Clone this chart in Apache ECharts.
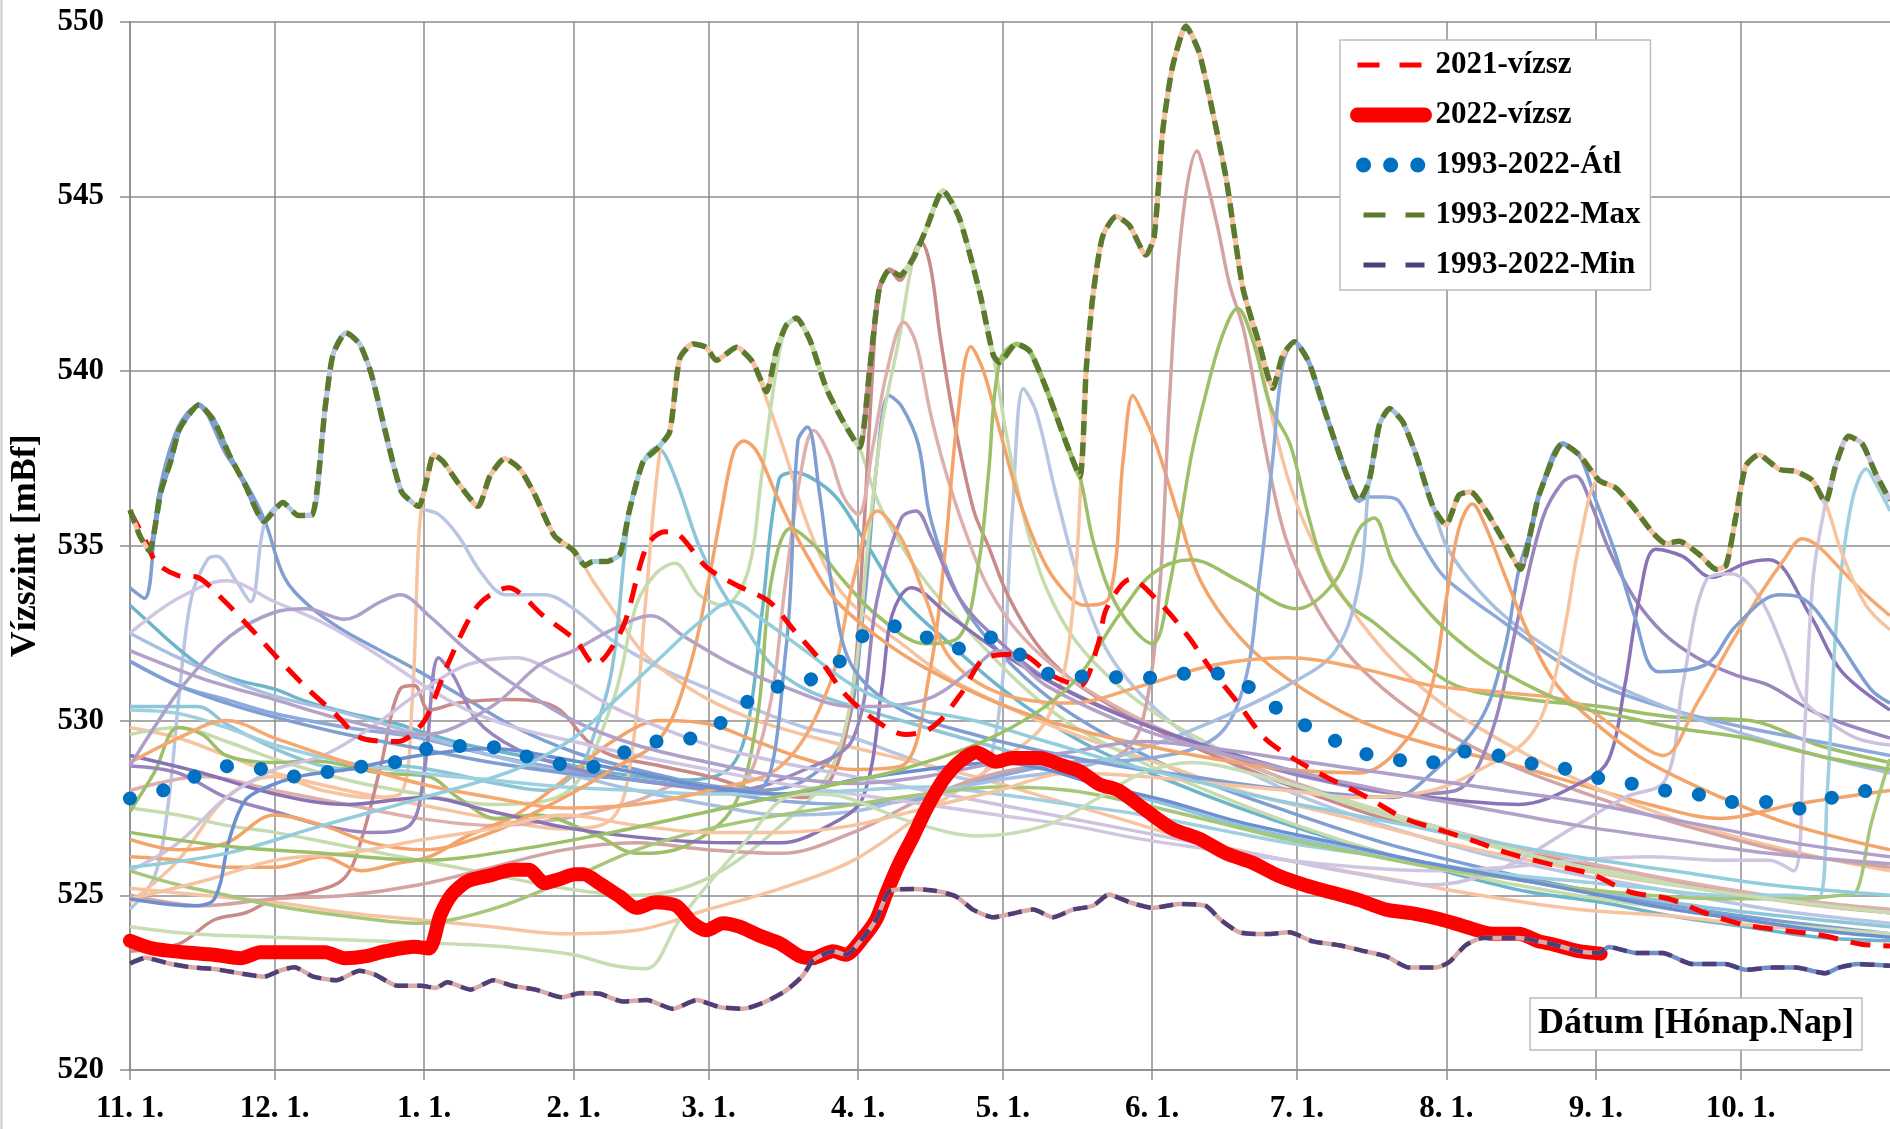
<!DOCTYPE html>
<html lang="hu">
<head>
  <meta charset="UTF-8">
  <title>Vízszint 1993-2022</title>
  <script src="https://cdn.jsdelivr.net/npm/echarts@6/dist/echarts.min.js"></script>
  <style>
    html, body { margin: 0; padding: 0; background: #fff; }
    #chart { width: 1890px; height: 1129px; }
  </style>
</head>
<body>
  <div id="chart"></div>
  <script>
    // x = day of the hydrological year (0 = Nov 1), y = water level [mBf]
    const monthStarts = [0, 30, 61, 92, 120, 151, 181, 212, 242, 273, 304, 334];
    const monthLabels = ['11. 1.', '12. 1.', '1. 1.', '2. 1.', '3. 1.', '4. 1.', '5. 1.', '6. 1.', '7. 1.', '8. 1.', '9. 1.', '10. 1.'];

    const lvl2021 = [[0,536.0],[3,535.2],[5.6,534.5],[10,534.15],[14,534.1],[19,533.5],[24.6,532.7],[30.2,531.85],[36.9,530.9],[42.5,530.2],[48,529.5],[55.5,529.4],[58.5,529.6],[61.5,530.1],[66.2,531.7],[72.2,533.3],[78.5,533.8],[85.7,533.0],[92.4,532.3],[96.5,531.6],[99,531.9],[102.6,532.8],[107.2,535.0],[111,535.4],[114,535.3],[119.5,534.4],[125.4,533.9],[132.6,533.4],[137.6,532.6],[143.3,531.7],[148,530.8],[153.6,530.1],[160.8,529.6],[165,529.7],[168,530.0],[172.5,530.8],[177.5,531.8],[184.7,531.9],[191,531.3],[197,531.0],[200.8,532.2],[202.5,533.2],[207.5,534.05],[214,533.3],[219.5,532.4],[224,531.5],[229.5,530.55],[235.3,529.5],[241.4,528.9],[248.6,528.35],[256.6,527.8],[264.3,527.2],[271,526.9],[278.8,526.55],[286,526.2],[295.3,525.86],[303.2,525.6],[311,525.1],[319.1,524.9],[327.3,524.46],[335,524.15],[342.6,524.0],[351,523.85],[359,523.6],[365,523.55]];

    const lvl2022 = [[0,523.7],[4.6,523.48],[11,523.37],[17.4,523.3],[23,523.2],[27,523.37],[33,523.37],[40.5,523.37],[44.5,523.2],[49,523.26],[53,523.4],[59,523.53],[62,523.48],[64.4,524.44],[66.8,525.03],[70,525.4],[74.7,525.57],[79.5,525.73],[82.7,525.73],[86,525.35],[89,525.46],[92.3,525.6],[94,525.6],[97.4,525.34],[101.6,524.96],[105,524.64],[109,524.8],[113.3,524.7],[116.7,524.2],[119.5,524.0],[123,524.2],[126.4,524.1],[130.6,523.84],[134.8,523.62],[139,523.25],[141.6,523.2],[145.8,523.4],[148.5,523.3],[152,523.78],[154.8,524.32],[156.9,525.07],[159.6,525.93],[162.4,526.68],[165,527.43],[168.6,528.29],[172,528.82],[175.5,529.09],[179.6,528.82],[183,528.93],[188.7,528.93],[193.5,528.71],[197,528.55],[201,528.18],[205,528.0],[210.7,527.43],[216.2,526.9],[221.7,526.62],[227.3,526.2],[232.8,525.93],[238.3,525.55],[243.9,525.28],[249.4,525.07],[254.9,524.86],[260.5,524.59],[266,524.48],[271.5,524.32],[277,524.1],[282.6,523.9],[288,523.9],[292.2,523.68],[295,523.6],[300.5,523.4],[305,523.33]];

    const lvlAvg = [[0,527.77],[7.5,528.03],[14.2,528.44],[21,528.7],[28.3,528.59],[35.5,528.38],[42.4,528.57],[49.4,528.71],[56.6,528.86],[63.3,529.26],[70.4,529.27],[77.7,529.19],[84.5,528.87],[91.5,528.71],[95.2,528.66],[101.6,529.04],[108.1,529.38],[115.3,529.45],[121.7,529.86],[127.3,530.47],[133.6,530.94],[140.7,531.15],[146.7,531.63],[151.6,532.39],[158.3,532.7],[165,532.39],[171.7,532.06],[178.4,532.38],[184.4,531.9],[190.4,531.34],[196.6,531.26],[201.7,531.26],[208.6,531.2],[215.6,531.29],[222.6,531.39],[229.6,531.18],[235.6,530.56],[241.6,530.02],[248,529.57],[254.4,529.11],[261.3,528.93],[268.6,528.74],[275.1,529.12],[282.3,529.04],[289.3,528.8],[296.4,528.66],[303.4,528.39],[310.2,528.23],[317,528.02],[324.5,527.91],[331.3,527.67],[338.9,527.67],[345.8,527.48],[352.3,527.77],[359.6,527.98],[365,528.0]];

    const lvlMax = [[0,536.03],[2,535.3],[4,534.86],[6.4,536.55],[8.4,537.4],[10.3,538.35],[14.3,539.04],[17.5,538.56],[20.6,537.6],[23.8,536.77],[27.8,535.7],[31.7,536.24],[34.9,535.87],[37.7,535.87],[40.5,538.99],[42.1,540.47],[44.8,541.1],[47.6,540.78],[50,539.94],[53.2,538.14],[56.3,536.55],[59.9,536.13],[61.5,536.87],[63,537.61],[65,537.4],[68.2,536.77],[72.2,536.13],[74.6,536.98],[77.7,537.5],[80.9,537.19],[84,536.45],[88,535.29],[92,534.86],[94.4,534.44],[96,534.55],[98.8,534.55],[101.6,534.76],[103.6,536.03],[106.4,537.4],[109.2,537.77],[111.9,538.25],[114,540.36],[116.8,540.78],[119.5,540.68],[121.6,540.31],[125.8,540.68],[129.2,540.25],[132,539.41],[134,540.57],[136.1,541.31],[138.2,541.52],[141,540.89],[144.4,539.51],[147.9,538.56],[151.3,537.82],[153.4,540.05],[155.4,542.37],[157.5,542.9],[159.6,542.74],[162.4,543.21],[165.1,544.06],[168.6,545.17],[172,544.38],[176.2,542.26],[179,540.47],[180.3,540.25],[183.8,540.78],[186.6,540.57],[190,539.51],[194.2,537.93],[197,536.98],[198.3,540.04],[199.7,542.16],[201.7,543.85],[204.5,544.43],[207.3,544.16],[210.7,543.32],[212.4,543.85],[214.2,546.91],[216.2,548.71],[219,549.87],[221.7,549.13],[224.5,547.44],[227.3,545.54],[230.8,542.37],[234.2,540.78],[237,539.51],[239.1,540.47],[241.5,540.84],[244.5,540.25],[248,538.77],[252.2,537.08],[254.9,536.29],[257,536.87],[259.1,538.46],[261.2,538.93],[263.9,538.56],[266.7,537.61],[270.2,536.13],[272.9,535.6],[275.6,536.45],[278,536.55],[281.1,536.03],[285.2,535.07],[288.4,534.33],[290.8,535.6],[292.2,536.45],[297.1,537.93],[300.5,537.61],[304.7,536.87],[308.1,536.66],[311.6,536.13],[315.7,535.39],[318.5,535.07],[321.3,535.13],[325.4,534.76],[328.9,534.33],[331,534.44],[333,535.81],[335.1,537.29],[337.8,537.61],[342,537.19],[345.4,537.13],[348.9,536.87],[351.6,536.24],[353.7,537.29],[356.4,538.14],[359.2,537.93],[362,537.08],[365,536.3]];

    const lvlMin = [[0,523.05],[3.2,523.21],[8,523.05],[12.7,522.94],[17.5,522.89],[22.2,522.78],[27.8,522.67],[31,522.84],[34.1,522.94],[38,522.67],[42.8,522.57],[47.6,522.84],[50.8,522.73],[55.5,522.41],[60.3,522.41],[63.4,522.35],[65.8,522.51],[70.6,522.3],[75.4,522.57],[79.3,522.41],[84.1,522.3],[89.6,522.08],[93.5,522.2],[97.4,522.18],[102.2,521.96],[107.1,522.0],[112.6,521.75],[117.5,522.0],[122.3,521.8],[127.1,521.75],[131.9,521.96],[136.1,522.28],[139.6,522.71],[141.6,523.14],[143.7,523.3],[145.8,523.4],[148.5,523.3],[152,523.78],[154.8,524.32],[157.5,525.12],[162.4,525.18],[167.2,525.12],[171.4,524.96],[174.8,524.59],[179,524.37],[183.1,524.48],[187.3,524.59],[191.4,524.37],[195.5,524.59],[199.7,524.7],[203,525.02],[207.3,524.8],[212.1,524.64],[217.6,524.75],[223.2,524.69],[226,524.32],[230.1,523.94],[235.6,523.89],[240.4,523.94],[245.3,523.68],[250.8,523.57],[255.7,523.41],[260.5,523.25],[265.3,522.93],[270.8,522.93],[273.6,523.09],[277,523.57],[280.5,523.78],[285.3,523.78],[288.1,523.78],[292.2,523.68],[295,523.6],[300.5,523.4],[304.6,523.35],[306.7,523.52],[312.3,523.35],[317.8,523.35],[324,523.03],[330.9,523.03],[335,522.87],[340.6,522.93],[345.4,522.93],[351.6,522.77],[354.4,522.93],[358.5,523.03],[365,522.98]];

    // individual years 1993-2020 (sparse points)
    const yr01 = [[0,533.8],[3,533.5],[6,536.5],[10,538.4],[14,539.0],[20,537.6],[24,536.8],[28,535.7],[32,534.1],[37,533.3],[44,532.6],[52,532.0],[60,531.4],[70,530.6],[80,529.8],[92,529.1],[105,528.6],[118,528.2],[130,528.0],[140,528.3],[148,529.5],[152,533.0],[155,537.5],[157.4,539.3],[160,539.0],[163.5,537.9],[166,535.8],[172,533.5],[180,532.0],[192,530.5],[205,529.4],[220,528.4],[240,527.4],[260,526.5],[280,525.8],[300,525.2],[320,524.7],[340,524.3],[365,523.9]];
    const yr02 = [[0,524.6],[5,525.5],[8,527.7],[10.3,530.9],[12.7,533.5],[16,534.6],[18,534.7],[22,534.0],[25,533.4],[28,535.7],[31.7,536.2],[35,535.9],[37.7,535.9],[40.5,539.0],[42,540.5],[44.8,541.1],[47.6,540.8],[50,539.9],[53,538.1],[56.3,536.6],[60,536.1],[64,535.9],[68,535.3],[73,534.2],[78,533.6],[86,533.6],[92,533.2],[100,532.3],[110,531.5],[120,530.9],[130,530.3],[140,529.8],[150,529.5],[160,529.0],[175,528.3],[180,530.0],[183,536.0],[185.3,539.5],[188,538.8],[192,536.5],[198,533.5],[205,531.5],[220,529.5],[240,528.0],[260,527.0],[280,526.2],[300,525.6],[320,525.1],[340,524.6],[365,524.2]];
    const yr03 = [[0,533.3],[4.8,532.7],[8.8,532.2],[14.3,531.6],[19,531.3],[23.8,531.1],[30,530.9],[36.5,530.55],[43,530.3],[49,530.1],[55.5,529.9],[60,529.7],[70,529.3],[85,528.9],[100,528.5],[115,528.3],[124,528.6],[128,529.8],[131,533.0],[134.6,536.9],[138,537.1],[143,536.8],[147,536.3],[153,535.0],[160,533.5],[170,532.2],[180,531.0],[190,530.0],[200,529.2],[215,528.3],[230,527.5],[245,526.8],[260,526.2],[275,525.6],[290,525.1],[305,524.8],[320,524.4],[335,524.1],[350,523.8],[365,523.7]];
    const yr04 = [[0,524.8],[10,526.0],[20,527.8],[30,528.4],[40,528.0],[50,527.8],[56,527.9],[58.5,530.5],[60,535.5],[61.5,536.9],[63,537.6],[65,537.4],[68.2,536.8],[72.2,536.1],[74.6,537.0],[77.7,537.5],[80.9,537.2],[84,536.4],[88,535.3],[92,534.9],[96,534.0],[100,533.2],[106,532.0],[112,531.3],[120,530.6],[130,530.0],[145,529.4],[160,528.9],[175,528.4],[190,527.8],[205,527.2],[220,526.6],[240,526.0],[260,525.5],[280,525.0],[300,524.6],[320,524.4],[340,524.1],[365,523.9]];
    const yr05 = [[0,530.4],[14,530.4],[20,529.9],[30,529.2],[40,528.7],[48,528.6],[56,528.7],[66,528.5],[76,528.2],[86,528.0],[93,528.6],[96,529.5],[100,531.5],[103.6,536.0],[106.4,537.4],[109.2,537.8],[111,537.6],[114,536.6],[118,535.0],[122,533.9],[127,532.8],[133,531.6],[140,530.9],[150,530.4],[160,530.0],[170,529.6],[185,529.0],[200,528.2],[215,527.6],[230,527.0],[250,526.4],[270,525.9],[290,525.4],[310,525.0],[330,524.6],[350,524.3],[365,524.1]];
    const yr06 = [[0,529.8],[10,529.5],[20,529.0],[30,528.5],[45,528.0],[60,527.6],[75,527.2],[90,526.9],[100,527.2],[104,529.0],[107,533.5],[110,537.8],[112,538.3],[114,540.4],[116.8,540.8],[119.5,540.7],[121.6,540.3],[125.8,540.7],[129.2,540.2],[132,539.2],[136,537.6],[140,535.8],[145,534.2],[150,533.3],[160,532.2],[170,531.2],[185,530.2],[200,529.4],[215,528.7],[230,528.0],[250,527.3],[270,526.6],[290,526.0],[310,525.5],[330,525.1],[350,524.7],[365,524.5]];
    const yr07 = [[0,529.6],[10,529.8],[20,529.4],[30,528.9],[45,528.3],[60,527.9],[75,527.6],[90,527.9],[100,530.5],[105,533.3],[109,534.2],[113,534.5],[118,533.6],[123,533.3],[128,534.2],[131,537.0],[134,540.0],[136.1,541.3],[138.2,541.5],[141,540.9],[144.4,539.5],[147.9,538.6],[151.3,537.8],[155,536.3],[160,535.0],[166,533.8],[175,532.4],[185,531.0],[195,529.9],[210,528.8],[225,527.9],[240,527.1],[260,526.2],[280,525.5],[300,525.0],[320,524.6],[340,524.2],[365,523.9]];
    const yr08 = [[0,523.4],[10,523.6],[17.5,524.3],[24,524.5],[30,524.9],[38,525.1],[44.5,525.5],[48,526.6],[52,528.7],[56,530.9],[59,531.0],[62,530.3],[68,530.5],[78,530.6],[88,530.4],[95,529.4],[100,529.0],[110,528.7],[120,528.4],[130,528.0],[140,527.8],[146,528.5],[150,531.0],[152,535.0],[154,540.0],[155.4,542.3],[157.5,542.9],[159.6,542.6],[162,543.2],[164,543.7],[166,543.0],[168,541.0],[171,538.5],[175,536.0],[178,535.0],[182,533.6],[188,532.2],[195,531.2],[205,530.3],[215,529.6],[230,528.7],[245,527.9],[260,527.2],[275,526.7],[290,526.2],[305,525.8],[320,525.4],[340,524.9],[365,524.5]];
    const yr09 = [[0,527.5],[10,527.3],[20,527.0],[30,526.8],[45,526.4],[60,526.0],[75,525.6],[90,525.2],[105,525.0],[120,525.5],[135,527.0],[145,528.5],[150,531.0],[153,535.0],[156,538.5],[159.6,541.0],[162.4,543.2],[165.1,544.06],[168.6,545.17],[172,544.38],[176.2,542.26],[179,540.47],[182,538.0],[186,535.5],[190,533.8],[196,532.3],[205,531.0],[215,530.0],[230,528.9],[245,528.0],[260,527.3],[280,526.5],[300,525.8],[320,525.3],[340,524.9],[365,524.5]];
    const yr10 = [[0,528.0],[15,528.4],[30,528.0],[45,527.6],[60,527.2],[75,527.0],[90,527.2],[105,527.7],[115,528.2],[125,528.0],[132,530.0],[136,534.0],[139,537.0],[141.8,538.3],[145,537.6],[148,536.4],[151,535.9],[154,537.8],[157,540.0],[160.5,541.4],[163,540.8],[166,538.8],[169,537.2],[173,535.5],[178,533.8],[185,532.4],[195,531.2],[210,530.0],[225,529.1],[240,528.3],[255,527.6],[270,527.0],[290,526.3],[310,525.7],[330,525.2],[350,524.8],[365,524.6]];
    const yr11 = [[0,526.1],[10,526.0],[20,525.8],[30,525.8],[40,526.1],[48,525.7],[55,525.9],[62,526.1],[70,526.7],[80,527.3],[90,528.3],[100,529.4],[110,530.0],[120,529.9],[130,529.4],[140,528.9],[150,528.6],[160,528.7],[166,531.5],[169,534.8],[171.5,538.5],[174.4,540.7],[177,540.0],[180,538.5],[184,536.5],[188,535.0],[192,534.0],[198,533.3],[203,533.5],[206,537.5],[208,539.3],[210,538.8],[212.8,537.9],[217.6,535.8],[222,534.0],[230,532.4],[240,531.2],[255,530.0],[270,529.3],[285,528.8],[300,528.2],[315,527.6],[330,527.2],[345,527.6],[365,528.0]];
    const yr12 = [[0,525.2],[15,525.0],[30,524.8],[45,524.5],[60,524.3],[75,524.1],[90,523.9],[105,524.0],[120,524.6],[135,525.2],[150,526.0],[165,527.4],[180,528.8],[190,530.0],[195,532.5],[198.3,540.0],[199.7,542.2],[201.7,543.9],[204.5,544.4],[207.3,544.2],[210.7,543.3],[212.4,543.9],[214.2,546.9],[216.2,548.7],[219,549.9],[221.7,549.1],[224.5,547.4],[227.3,545.5],[230.8,542.4],[234.2,540.4],[237,538.6],[240,537.0],[244,535.5],[250,533.9],[257,532.5],[265,531.3],[275,530.2],[290,529.0],[305,528.0],[320,527.2],[335,526.6],[350,526.1],[365,525.7]];
    const yr13 = [[0,525.0],[15,524.7],[30,524.9],[45,525.0],[60,525.3],[75,525.8],[90,526.3],[105,526.5],[120,526.3],[135,526.2],[150,526.8],[165,527.8],[180,528.5],[195,528.8],[205,529.0],[210,530.0],[213.5,533.7],[215.5,539.0],[218,544.0],[221.3,546.3],[223,545.6],[225.6,544.1],[228,542.5],[231.1,541.1],[235.3,537.9],[239.5,535.3],[245,533.5],[252,532.0],[260,530.9],[270,529.9],[285,528.8],[300,528.0],[315,527.3],[330,526.7],[345,526.2],[365,525.8]];
    const yr14 = [[0,527.4],[5,528.5],[10,529.8],[15,529.6],[20,529.0],[30,528.8],[38,528.85],[52,528.5],[62,528.4],[68,527.8],[76,527.2],[84,527.3],[97,526.7],[105,526.2],[115,526.4],[125,527.5],[130,530.0],[133,534.0],[137,535.5],[142,535.0],[148,534.0],[155,533.0],[165,532.2],[172,532.4],[176,534.5],[178,537.0],[180.3,540.25],[183.8,540.78],[186.6,540.57],[190,539.51],[194.2,537.93],[197,536.98],[200,535.0],[205,533.2],[212,532.2],[215.5,533.8],[220,537.5],[223.2,539.4],[226.5,541.0],[229.7,541.8],[233,540.8],[236.5,539.0],[240.6,537.9],[244.5,535.8],[248,534.3],[253,533.3],[258,532.8],[265,532.0],[275,531.0],[290,530.6],[305,530.4],[320,530.1],[336,530.0],[350,529.3],[365,528.8]];
    const yr15 = [[0,531.7],[10,531.0],[20,530.6],[30,530.2],[45,529.8],[60,529.5],[75,529.0],[90,528.6],[105,528.3],[120,528.0],[135,527.7],[150,527.6],[165,527.8],[180,528.4],[195,528.8],[210,528.9],[225,529.5],[231,531.0],[234.2,534.0],[237,537.5],[239.1,540.2],[241.5,540.84],[244.5,540.25],[248,538.77],[252.2,537.08],[254.9,536.29],[257,536.4],[260,536.4],[263,536.3],[267,535.3],[272,534.2],[278,533.5],[285,532.8],[295,531.8],[305,531.0],[320,530.3],[335,529.8],[350,529.4],[365,529.0]];
    const yr16 = [[0,532.5],[10,531.8],[20,531.2],[30,530.7],[45,530.2],[60,529.6],[75,529.0],[90,528.5],[105,528.0],[120,527.6],[135,527.3],[150,527.4],[165,527.9],[180,528.3],[195,528.6],[210,529.2],[225,530.0],[240,531.0],[250,532.0],[255,534.0],[257,536.87],[259.1,538.46],[261.2,538.93],[263.9,538.56],[266.7,537.61],[270.2,536.13],[273,535.0],[278,534.0],[285,533.0],[295,532.0],[305,531.2],[320,530.3],[335,529.6],[350,529.0],[365,528.5]];
    const yr17 = [[0,528.7],[10,528.5],[20,527.8],[30,527.4],[40,527.0],[50,526.8],[58,527.0],[61,528.5],[64,531.8],[67,531.3],[72,530.0],[80,529.2],[90,528.7],[100,528.4],[110,528.2],[125,528.0],[140,528.6],[150,529.5],[155,533.5],[160,535.8],[163,536.0],[166,535.3],[172,533.5],[180,532.3],[190,531.2],[205,530.2],[220,529.4],[235,528.7],[250,528.2],[265,527.9],[275,528.0],[282,529.5],[288,533.0],[293,535.8],[297,536.8],[299.8,537.0],[303,536.2],[307,534.8],[312,533.5],[318,532.5],[325,531.8],[333,531.3],[340,531.0],[350,530.2],[365,529.5]];
    const yr18 = [[0,529.0],[15,528.5],[30,527.9],[45,527.6],[61,527.8],[75,527.4],[92,526.9],[110,526.6],[125,526.5],[135,526.5],[145,527.0],[152,527.8],[156,531.0],[158,533.0],[162,533.8],[170,533.0],[180,532.0],[195,530.8],[210,529.9],[225,529.2],[240,528.6],[255,528.1],[270,527.8],[288,527.6],[302,528.3],[306.7,528.9],[310,531.0],[313,533.5],[316.4,534.9],[322,534.7],[328,534.1],[335,534.5],[340,534.6],[348.5,533.0],[355,531.4],[365,530.3]];
    const yr19 = [[0,525.7],[10,526.5],[20,527.8],[30,528.6],[40,529.0],[50,529.8],[60,530.8],[70,531.6],[80,531.8],[90,531.2],[100,530.4],[110,529.8],[120,529.3],[135,528.8],[150,528.4],[165,528.0],[180,527.6],[195,527.2],[210,526.8],[225,526.4],[240,526.0],[255,525.6],[270,525.3],[285,525.8],[300,527.0],[310,527.8],[318.4,528.3],[322,531.0],[326.8,534.0],[332,534.2],[338,533.5],[343,532.0],[347,530.6],[352,530.0],[358,529.5],[365,529.3]];
    const yr20 = [[0,532.5],[10,533.5],[20,534.0],[30,533.4],[40,532.8],[50,532.0],[61,531.0],[70,530.3],[80,529.8],[92,529.4],[105,529.0],[120,528.6],[135,528.2],[150,527.9],[165,527.6],[180,527.3],[195,527.0],[210,526.6],[225,526.3],[240,526.0],[255,525.8],[270,525.7],[285,525.8],[300,526.0],[315,526.1],[330,526.0],[340,526.0],[345,525.7],[347,529.0],[349,534.0],[351.6,536.2],[353.7,537.3],[356.4,538.14],[359.2,537.93],[362,537.08],[365,536.3]];
    const yr21 = [[0,530.3],[10,530.2],[20,529.8],[30,529.3],[45,528.8],[60,528.5],[75,528.3],[90,528.1],[105,528.0],[120,527.9],[135,527.9],[150,528.0],[165,528.1],[180,527.9],[195,527.6],[210,527.3],[225,526.9],[240,526.5],[255,526.2],[270,525.9],[285,525.6],[300,525.4],[315,525.2],[330,525.0],[345,525.0],[350,524.9],[352,528.0],[354,533.0],[357,536.2],[360.1,537.2],[362,536.8],[365,536.0]];
    const yr22 = [[0,525.7],[10,525.3],[20,525.0],[30,524.7],[45,524.4],[60,524.2],[75,524.6],[90,525.4],[105,526.3],[120,526.9],[135,527.3],[150,527.6],[165,527.9],[180,528.1],[195,528.0],[210,527.6],[225,527.1],[240,526.6],[255,526.2],[270,525.8],[285,525.5],[300,525.2],[315,525.0],[330,524.9],[345,524.9],[355,525.0],[358,525.1],[361,527.0],[365,528.9]];
    const yr23 = [[0,528.8],[10,529.5],[20,530.0],[30,529.5],[45,528.8],[60,528.2],[75,527.8],[90,527.5],[105,527.6],[120,528.0],[135,528.7],[145,531.0],[150,534.0],[155,536.0],[160,535.2],[165,533.5],[170,531.8],[180,530.8],[195,530.5],[210,531.0],[225,531.6],[240,531.8],[255,531.5],[270,531.0],[285,530.8],[300,530.5],[310,529.6],[318,529.0],[325,530.5],[332,532.2],[338,533.6],[343,534.6],[346.8,535.2],[350,535.0],[355,534.3],[360,533.6],[365,533.0]];
    const yr24 = [[0,531.7],[10,531.0],[20,530.5],[30,530.1],[45,529.6],[60,529.2],[75,528.8],[90,528.5],[105,528.3],[120,528.1],[130,528.0],[136,532.0],[138.5,538.0],[140.5,538.4],[143,536.5],[146,533.5],[150,531.5],[160,530.3],[175,529.6],[190,529.1],[205,528.7],[220,528.4],[235,528.1],[250,527.9],[262,527.8],[270,528.5],[280,530.0],[285,532.0],[288,534.3],[290.8,535.6],[292.2,536.45],[297.1,537.93],[300.5,537.61],[304,536.3],[308,534.8],[312,533.0],[317,531.4],[326.8,531.6],[333,532.7],[342,533.6],[346.8,533.5],[353.6,532.4],[361,530.9],[365,530.5]];
    const yr25 = [[0,526.6],[10,526.3],[20,526.5],[30,527.3],[40,527.0],[50,526.5],[61,526.3],[75,526.8],[90,527.8],[100,528.6],[110,529.5],[116,531.5],[120,534.0],[122.4,535.8],[125.2,537.7],[127.3,538.0],[130,537.7],[133.6,536.6],[137,535.6],[140.5,534.7],[146,533.5],[155,532.4],[165,531.5],[180,530.5],[195,529.8],[210,529.3],[225,528.9],[240,528.6],[255,528.5],[265,529.5],[270,531.0],[273,533.5],[275.6,535.5],[278.4,536.2],[281,535.6],[285,534.2],[290,532.5],[296,531.0],[305,529.8],[315,528.8],[330,527.8],[345,527.0],[365,526.3]];
    const yr26 = [[0,524.9],[15,525.4],[30,526.0],[45,526.2],[61,526.6],[75,526.9],[90,527.3],[105,527.0],[120,526.8],[135,526.8],[150,527.0],[165,527.5],[180,528.0],[195,528.5],[210,528.4],[225,528.2],[240,528.0],[255,527.8],[270,528.0],[280,528.6],[290,529.5],[295,531.0],[298,533.0],[300.5,535.0],[304.7,536.87],[308.1,536.66],[311.6,536.13],[315.7,535.39],[318.5,535.07],[321.3,535.13],[325.4,534.76],[328.9,534.33],[331,534.44],[333,535.81],[335.1,537.29],[337.8,537.61],[342,537.19],[345.4,537.13],[348.9,536.87],[351.6,536.24],[355,534.8],[360,533.3],[365,532.6]];
    const yr27 = [[0,524.9],[12.7,524.7],[17.5,524.9],[20.6,526.6],[23.8,527.7],[28.5,528.1],[35,528.4],[45,528.6],[60,529.0],[75,529.2],[90,528.9],[105,528.5],[120,528.1],[135,527.9],[150,528.3],[165,528.6],[180,528.8],[190,528.6],[200,528.2],[215,527.7],[230,527.1],[250,526.5],[270,525.9],[290,525.4],[305,525.0],[320,524.6],[335,524.3],[350,524.0],[365,523.8]];
    const yr28 = [[0,524.1],[12.7,523.9],[30,523.8],[50,523.7],[68,523.6],[80,523.5],[92,523.3],[100,523.0],[107,522.9],[114,524.3],[121,525.5],[128,526.6],[136,527.8],[141.6,527.9],[148.5,527.8],[162,527.1],[176,526.7],[190,527.0],[201,527.8],[210,528.5],[220,528.8],[235,528.4],[250,527.8],[265,527.2],[280,526.6],[295,526.0],[310,525.6],[325,525.2],[340,524.9],[365,524.5]];
    const yr29 = [[0,528.7],[5,529.8],[11,531.0],[20.6,532.4],[30,533.1],[36.5,533.2],[44.5,532.9],[52,533.4],[56,533.6],[62,533.0],[70,532.0],[80,531.0],[92,530.0],[105,529.3],[120,528.8],[135,528.4],[150,528.2],[165,528.4],[180,528.8],[195,529.1],[210,529.4],[225,529.2],[240,528.9],[255,528.6],[270,528.3],[285,528.0],[300,527.7],[315,527.3],[330,526.9],[345,526.5],[365,526.1]];
    const yr30 = [[0,532.0],[15,531.2],[30,530.6],[45,530.0],[61,529.6],[75,530.4],[85,531.6],[92,532.0],[100,532.6],[108,533.0],[115,532.4],[125,531.6],[135,531.0],[150,530.4],[165,530.6],[175,531.5],[180,532.0],[190,531.0],[205,530.0],[220,529.3],[240,528.6],[260,528.0],[280,527.5],[300,527.0],[320,526.6],[340,526.2],[365,525.9]];
    const yr31 = [[0,525.8],[20,526.2],[40,527.0],[61,527.8],[80,528.6],[92,529.5],[100,530.5],[110,531.8],[118,532.8],[125,533.4],[130,533.0],[140,532.0],[150,531.0],[160,530.4],[175,530.0],[190,529.4],[205,528.8],[220,528.3],[235,527.8],[250,527.4],[265,527.0],[280,526.6],[300,526.1],[320,525.7],[340,525.3],[365,525.0]];
    const yr32 = [[0,526.8],[20,526.4],[40,526.2],[61,526.0],[80,526.3],[100,526.8],[120,527.4],[140,528.0],[160,528.6],[180,529.6],[195,531.0],[205,533.0],[212,534.2],[220,534.6],[230,534.0],[242,533.2],[250,534.0],[255,535.5],[258,535.8],[262,534.5],[270,533.0],[280,531.8],[290,531.0],[300,530.4],[310,530.1],[320,529.8],[335,529.5],[350,529.0],[365,528.6]];

    const yearLines = [yr01, yr02, yr03, yr04, yr05, yr06, yr07, yr08, yr09, yr10, yr11, yr12, yr13, yr14, yr15, yr16,
                       yr17, yr18, yr19, yr20, yr21, yr22, yr23, yr24, yr25, yr26, yr27, yr28, yr29, yr30, yr31, yr32];
    const yearColors = ['#7f9fd2', '#b8c6e4', '#6db5ca', '#f7c4a2', '#8ec5d8', '#f7c4a2', '#c6dcae', '#c98b89',
                        '#c6dcae', '#ddb0ae', '#f3a46b', '#f7c4a2', '#d4a3a3', '#9dbf68', '#8eaadb', '#a8c0e0',
                        '#9a86bf', '#8a73b5', '#cdc3de', '#d0c6e2', '#9fd0e0', '#a6c77a', '#f5a970', '#7f9fd2',
                        '#f3a46b', '#f7c4a2', '#6b8fd0', '#c9ddb4', '#ae9fcb', '#b3a2c7', '#93cddd', '#9dbf68'];

    const serif = "'Liberation Serif', 'Times New Roman', serif";
    const gridGray = '#8c8c8c';

    const series = [];
    yearLines.forEach(function (d, i) {
      series.push({
        name: 'ev' + (i + 1),
        type: 'line',
        data: d,
        symbol: 'none',
        smooth: 0.35,
        silent: true,
        z: 1,
        lineStyle: { color: yearColors[i], width: 3.5 }
      });
    });

    series.push({
      name: '2021-vízsz', type: 'line', data: lvl2021, symbol: 'none', smooth: 0.3, z: 3,
      itemStyle: { color: '#ff0000' },
      lineStyle: { color: '#ff0000', width: 5, type: [20, 13] }
    });
    series.push({
      name: '2022-vízsz', type: 'line', data: lvl2022, symbol: 'none', smooth: 0.25, z: 4,
      itemStyle: { color: '#ff0000' },
      lineStyle: { color: '#ff0000', width: 14, cap: 'round', join: 'round' }
    });
    const minUnderIdx = series.length;
    series.push({
      name: 'minAlap', type: 'line', data: lvlMin, symbol: 'none', smooth: 0.2, z: 5, silent: true,
      lineStyle: { width: 4.5 }
    });
    series.push({
      name: '1993-2022-Min', type: 'line', data: lvlMin, symbol: 'none', smooth: 0.2, z: 6,
      itemStyle: { color: '#4e3f78' },
      lineStyle: { color: '#4e3f78', width: 4.5, type: [14, 9] }
    });
    series.push({
      name: '1993-2022-Átl', type: 'line', data: lvlAvg, symbol: 'none', smooth: 0.3, z: 7,
      itemStyle: { color: '#0070c0' },
      lineStyle: { color: '#0070c0', width: 14, type: [0.1, 34], cap: 'round' }
    });
    const maxUnderIdx = series.length;
    series.push({
      name: 'maxAlap', type: 'line', data: lvlMax, symbol: 'none', smooth: 0.2, z: 8, silent: true,
      lineStyle: { width: 5 }
    });
    series.push({
      name: '1993-2022-Max', type: 'line', data: lvlMax, symbol: 'none', smooth: 0.2, z: 9,
      itemStyle: { color: '#5b7a2e' },
      lineStyle: { color: '#5b7a2e', width: 5.5, type: [14, 7] }
    });

    const chart = echarts.init(document.getElementById('chart'));
    chart.setOption({
      animation: false,
      backgroundColor: '#ffffff',
      grid: { left: 130, right: 0, top: 21.7, bottom: 59 },
      title: {
        text: 'Dátum [Hónap.Nap]',
        left: 1530, top: 998,
        padding: [7, 8, 7, 8],
        backgroundColor: '#ffffff',
        borderColor: '#bdbdbd', borderWidth: 1.5,
        textStyle: { fontFamily: serif, fontWeight: 'bold', fontSize: 36, lineHeight: 38, color: '#000' }
      },
      legend: {
        data: [
          { name: '2021-vízsz', lineStyle: { width: 5, type: [22, 20] } },
          { name: '2022-vízsz', lineStyle: { width: 15, cap: 'round' } },
          { name: '1993-2022-Átl', lineStyle: { width: 15, type: [0.1, 27], cap: 'round', dashOffset: -6 } },
          { name: '1993-2022-Max', lineStyle: { width: 5, type: [22, 20] } },
          { name: '1993-2022-Min', lineStyle: { width: 5, type: [22, 20] } }
        ],
        orient: 'vertical',
        left: 1340, top: 40,
        padding: [9, 10, 9, 10],
        itemWidth: 67, itemHeight: 16, itemGap: 18,
        itemStyle: { opacity: 0, borderWidth: 0 },
        backgroundColor: '#ffffff',
        borderColor: '#bdbdbd', borderWidth: 1.5,
        selectedMode: false,
        textStyle: { fontFamily: serif, fontWeight: 'bold', fontSize: 31, lineHeight: 32, color: '#000', padding: [0, 0, 0, 6] }
      },
      visualMap: [
        {
          type: 'piecewise', show: false, dimension: 0, seriesIndex: maxUnderIdx,
          pieces: [
            { gte: 0, lt: 4, color: '#f5c3a3' },
            { gte: 4, lt: 29, color: '#7f9fd2' },
            { gte: 29, lt: 59, color: '#b8c6e4' },
            { gte: 59, lt: 93, color: '#f5c3a3' },
            { gte: 93, lt: 111, color: '#9fcfe0' },
            { gte: 111, lt: 133, color: '#f5c3a3' },
            { gte: 133, lt: 152, color: '#c6dcae' },
            { gte: 152, lt: 160, color: '#c98b89' },
            { gte: 160, lt: 180, color: '#c6dcae' },
            { gte: 180, lt: 197, color: '#9dbf68' },
            { gte: 197, lt: 240, color: '#f5c3a3' },
            { gte: 240, lt: 256, color: '#8eaadb' },
            { gte: 256, lt: 271, color: '#a8c0e0' },
            { gte: 271, lt: 289, color: '#f5c3a3' },
            { gte: 289, lt: 301, color: '#7f9fd2' },
            { gte: 301, lt: 350, color: '#f5c3a3' },
            { gte: 350, lte: 366, color: '#cdc3de' }
          ]
        },
        {
          type: 'piecewise', show: false, dimension: 0, seriesIndex: minUnderIdx,
          pieces: [
            { gte: 0, lt: 305, color: '#d9aaa8' },
            { gte: 305, lte: 366, color: '#6f8fcc' }
          ]
        }
      ],
      xAxis: {
        type: 'value',
        min: 0, max: 365,
        axisLine: { show: true, lineStyle: { color: gridGray, width: 1.5 } },
        axisTick: { show: true, customValues: monthStarts, length: 10, lineStyle: { color: gridGray, width: 1.5 } },
        axisLabel: {
          customValues: monthStarts,
          formatter: function (v) { return monthLabels[monthStarts.indexOf(v)]; },
          fontFamily: serif, fontWeight: 'bold', fontSize: 31, color: '#000', margin: 23
        },
        splitLine: { show: true, lineStyle: { color: gridGray, width: 1.5 } }
      },
      yAxis: {
        type: 'value',
        min: 520, max: 550, interval: 5,
        name: 'Vízszint [mBf]',
        nameLocation: 'middle',
        nameGap: 86,
        nameTextStyle: { fontFamily: serif, fontWeight: 'bold', fontSize: 36, color: '#000' },
        axisLine: { show: true, lineStyle: { color: gridGray, width: 1.5 } },
        axisTick: { show: true, length: 10, lineStyle: { color: gridGray, width: 1.5 } },
        axisLabel: { fontFamily: serif, fontWeight: 'bold', fontSize: 31, color: '#000', margin: 26 },
        splitLine: { show: true, lineStyle: { color: gridGray, width: 1.5 } }
      },
      graphic: [
        { type: 'line', shape: { x1: 1.5, y1: 0, x2: 1.5, y2: 1129 }, style: { stroke: '#c8c8c8', lineWidth: 2 }, silent: true }
      ],
      series: series
    });
  </script>
</body>
</html>
